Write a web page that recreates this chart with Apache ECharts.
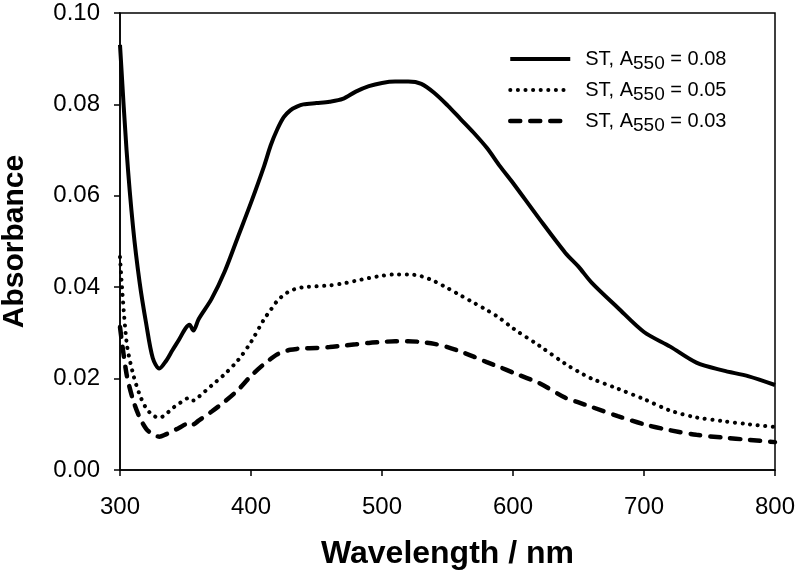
<!DOCTYPE html>
<html>
<head>
<meta charset="utf-8">
<script src="https://cdn.jsdelivr.net/npm/echarts@6/dist/echarts.min.js"></script>
<style>html,body{margin:0;padding:0;background:#fff}#c{width:800px;height:576px}</style>
</head>
<body>
<div id="c"></div>
<script>
var wavelengths = [300,305,310,315,320,325,330,335,340,345,350,353,356,360,370,380,390,400,410,415,420,425,430,435,440,450,460,470,480,490,500,510,520,530,540,550,560,570,580,590,600,620,640,650,660,680,700,720,740,760,780,800];
var absHigh = [0.093,0.070,0.053,0.041,0.032,0.0245,0.0222,0.0238,0.0262,0.0285,0.031,0.0318,0.0305,0.033,0.0375,0.0435,0.051,0.0585,0.0665,0.071,0.0745,0.0772,0.0787,0.0795,0.0800,0.0803,0.0806,0.0812,0.0828,0.084,0.0847,0.085,0.085,0.0845,0.0825,0.0798,0.0768,0.0738,0.0705,0.0665,0.0628,0.055,0.0475,0.0445,0.041,0.0355,0.0302,0.027,0.0235,0.0218,0.0205,0.0186];
var absMid = [0.0466,0.028,0.021,0.0165,0.0135,0.012,0.0114,0.0122,0.0135,0.0145,0.0155,0.0158,0.0152,0.016,0.0185,0.021,0.024,0.028,0.033,0.035,0.037,0.0383,0.0392,0.0397,0.040,0.0402,0.0404,0.0408,0.0414,0.042,0.0425,0.0428,0.0428,0.0424,0.0413,0.0398,0.0382,0.0366,0.035,0.0332,0.031,0.0272,0.0232,0.0215,0.020,0.0178,0.0155,0.013,0.0115,0.0107,0.010,0.0094];
var absLow = [0.0313,0.021,0.0153,0.0115,0.009,0.0078,0.0073,0.0078,0.0085,0.0092,0.0100,0.0104,0.0100,0.0108,0.0128,0.015,0.0175,0.0206,0.0232,0.0243,0.0253,0.0259,0.0263,0.0265,0.0266,0.0267,0.0269,0.0272,0.0275,0.0278,0.028,0.0282,0.0282,0.028,0.0276,0.0269,0.0259,0.0248,0.0236,0.0225,0.0213,0.019,0.0158,0.0148,0.0138,0.0118,0.010,0.0087,0.0077,0.0071,0.0066,0.0061];
var seriesNames = ['ST, A550 = 0.08','ST, A550 = 0.05','ST, A550 = 0.03'];
var legendLabels = ['ST, A{s|550} = 0.08','ST, A{s|550} = 0.05','ST, A{s|550} = 0.03'];
var xTicks = [300,400,500,600,700,800];
var yTicks = [0.00,0.02,0.04,0.06,0.08,0.10];

function zip(ys){ return wavelengths.map(function(w,i){ return [w, ys[i]]; }); }
var FONT = 'Liberation Sans, Arial, sans-serif';
var styles = [
  { color: '#000', width: 4, type: 'solid' },
  { color: '#000', width: 4, type: [0.1, 7.5], cap: 'round' },
  { color: '#000', width: 4.5, type: [10, 10], cap: 'round' }
];
var chart = echarts.init(document.getElementById('c'));
chart.setOption({
  animation: false,
  backgroundColor: '#fff',
  grid: { left: 120, right: 25, top: 13, bottom: 106, containLabel: false, outerBoundsMode: 'none',
    show: true, borderColor: '#000', borderWidth: 1.5, backgroundColor: 'transparent' },
  legend: {
    orient: 'vertical', left: 503, top: 44, itemWidth: 60, itemHeight: 14, itemGap: 6.5,
    data: seriesNames.map(function(n, i){ return { name: n, lineStyle: styles[i] }; }),
    itemStyle: { opacity: 0 },
    formatter: function(n){ return legendLabels[seriesNames.indexOf(n)]; },
    textStyle: { fontFamily: FONT, fontSize: 20, color: '#000', padding: [0,0,0,10],
      rich: { s: { fontFamily: FONT, fontSize: 19, color: '#000', padding: [10,0,0,0] } } }
  },
  xAxis: {
    type: 'value', min: xTicks[0], max: xTicks[xTicks.length-1], interval: 100,
    name: 'Wavelength / nm', nameLocation: 'middle', nameGap: 68,
    nameTextStyle: { fontFamily: FONT, fontSize: 32, fontWeight: 'bold', color: '#000' },
    axisLine: { lineStyle: { color: '#000', width: 1.5 } },
    axisTick: { inside: false, length: 6, lineStyle: { color: '#000', width: 1.5 } },
    axisLabel: { margin: 25, fontFamily: FONT, fontSize: 24, color: '#000' },
    splitLine: { show: false }
  },
  yAxis: {
    type: 'value', min: yTicks[0], max: yTicks[yTicks.length-1], interval: 0.02,
    name: 'Absorbance', nameLocation: 'middle', nameGap: 90, nameRotate: 90,
    nameTextStyle: { fontFamily: FONT, fontSize: 30, fontWeight: 'bold', color: '#000' },
    axisLine: { show: true, lineStyle: { color: '#000', width: 1.5 } },
    axisTick: { show: true, inside: false, length: 6, lineStyle: { color: '#000', width: 1.5 } },
    axisLabel: { margin: 20, fontFamily: FONT, fontSize: 24, color: '#000', formatter: function(v){ return v.toFixed(2); } },
    splitLine: { show: false }
  },
  series: [
    { name: seriesNames[0], type: 'line', data: zip(absHigh), smooth: 0.3, symbol: 'none',
      lineStyle: styles[0], itemStyle: { color: '#000' } },
    { name: seriesNames[1], type: 'line', data: zip(absMid), smooth: 0.3, symbol: 'none',
      lineStyle: styles[1], itemStyle: { color: '#000' } },
    { name: seriesNames[2], type: 'line', data: zip(absLow), smooth: 0.3, symbol: 'none',
      lineStyle: styles[2], itemStyle: { color: '#000' } }
  ]
});
</script>
</body>
</html>
